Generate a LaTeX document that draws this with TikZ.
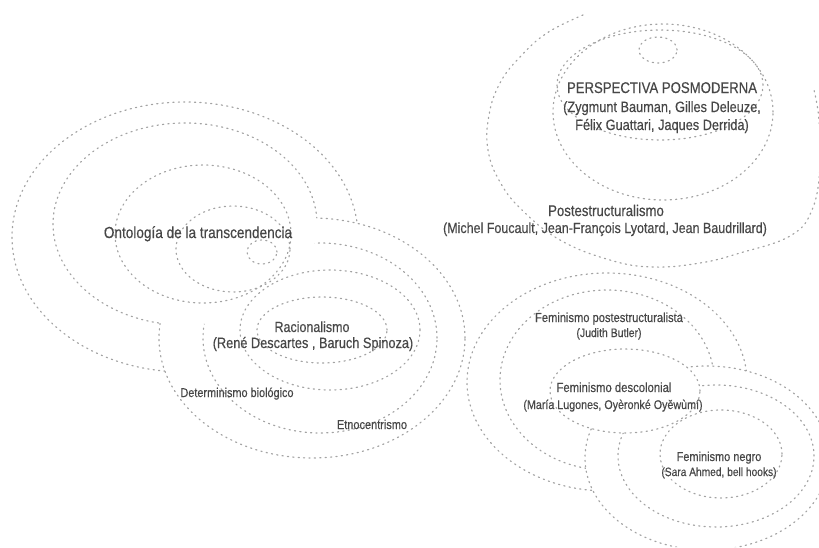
\documentclass[tikz,border=0pt]{standalone}
\usepackage{fontspec}
\setmainfont[FakeStretch=0.85,FakeBold=0.4]{Liberation Sans}
\begin{document}
\begin{tikzpicture}[x=1pt,y=-1pt,
  ring/.style={draw=black!36, line width=1.2pt, dash pattern=on 1.2pt off 4.2pt, line cap=round},
  lab/.style={text=black!72, inner sep=0pt, anchor=base},
]
\useasboundingbox (0,0) rectangle (819,547);
\clip (0,0) rectangle (819,547);
% ---------- group A : Ontologia ----------
\begin{scope}[even odd rule]
  \clip (819,0) rectangle (0,547) (312,338) ellipse [x radius=153pt, y radius=120pt];
  \draw[ring] (185,237) ellipse [x radius=173pt, y radius=135pt];
  \draw[ring] (185,224) ellipse [x radius=132pt, y radius=101pt];
\end{scope}
\draw[ring] (203,234) ellipse [x radius=88pt, y radius=69pt];
\draw[ring] (233,249) ellipse [x radius=57pt, y radius=43pt];
\draw[ring] (262,252) ellipse [x radius=15pt, y radius=12pt];
% ---------- group B : Racionalismo ----------
\begin{scope}[even odd rule]
  \clip (819,0) rectangle (0,547) (185,224) ellipse [x radius=132pt, y radius=101pt];
  \draw[ring] (312,338) ellipse [x radius=153pt, y radius=120pt];
  \draw[ring] (320,338) ellipse [x radius=117pt, y radius=95pt];
\end{scope}
\begin{scope}[even odd rule]
  \clip (819,0) rectangle (0,547) (203,234) ellipse [x radius=88pt, y radius=69pt];
  \draw[ring] (330,330) ellipse [x radius=90pt, y radius=60pt];
\end{scope}
\draw[ring] (322,330) ellipse [x radius=65pt, y radius=33pt];
% ---------- group C : Postestructuralismo ----------
\draw[ring] plot[smooth, tension=0.7] coordinates {(583,15) (547,33) (520,57) (500,83) (489,115) (488,150) (500,182) (522,210) (560,240) (610,260) (653,267) (700,263) (740,253) (790,236) (812,210) (820,167) (819,120) (814,90)};
\draw[ring] (663,112) ellipse [x radius=110pt, y radius=88pt];
\draw[ring] (660,85) ellipse [x radius=103pt, y radius=55pt];
\draw[ring] (658,50) ellipse [x radius=19pt, y radius=13pt];
% ---------- group D : Feminismo ----------
\begin{scope}[even odd rule]
  \clip (819,0) rectangle (0,547) (707,458) ellipse [x radius=122pt, y radius=92pt];
  \draw[ring] (607,382) ellipse [x radius=140pt, y radius=109pt];
  \draw[ring] (607,380) ellipse [x radius=107pt, y radius=90pt];
\end{scope}
\draw[ring] (625,391) ellipse [x radius=75pt, y radius=42pt];
% ---------- group E : Feminismo negro ----------
\begin{scope}[even odd rule]
  \clip (819,0) rectangle (0,547) (625,391) ellipse [x radius=75pt, y radius=42pt];
  \draw[ring] (707,458) ellipse [x radius=122pt, y radius=92pt];
  \draw[ring] (716,456) ellipse [x radius=98pt, y radius=71pt];
\end{scope}
\draw[ring] (721,454) ellipse [x radius=61pt, y radius=44pt];
% ---------- labels ----------
\node[lab, font=\fontsize{15.5}{18}\selectfont] (perspT) at (662,93) {PERSPECTIVA POSMODERNA};
\node[lab, font=\fontsize{15}{18}\selectfont] (perspA) at (662,112) {(Zygmunt Bauman, Gilles Deleuze,};
\node[lab, font=\fontsize{15}{18}\selectfont] (perspB) at (662,130) {Félix Guattari, Jaques Derrida)};
\node[lab, font=\fontsize{15.5}{18}\selectfont] (postT) at (606,216) {Postestructuralismo};
\node[lab, font=\fontsize{14.7}{18}\selectfont] (postA) at (605,233) {(Michel Foucault, Jean-François Lyotard, Jean Baudrillard)};
\node[lab, font=\fontsize{16}{18}\selectfont] (onto) at (198,238) {Ontología de la transcendencia};
\node[lab, font=\fontsize{14.7}{18}\selectfont] (racT) at (312,332) {Racionalismo};
\node[lab, font=\fontsize{15}{18}\selectfont] (racA) at (313,348) {(René Descartes , Baruch Spinoza)};
\node[lab, font=\fontsize{12.8}{15}\selectfont] (deter) at (237,397) {Determinismo biológico};
\node[lab, font=\fontsize{12.9}{15}\selectfont] (etno) at (372,429) {Etnocentrismo};
\node[lab, font=\fontsize{13.1}{15}\selectfont] (femPT) at (609,322) {Feminismo postestructuralista};
\node[lab, font=\fontsize{12.3}{15}\selectfont] (femPA) at (609,337) {(Judith Butler)};
\node[lab, font=\fontsize{13.3}{15}\selectfont] (femDT) at (614,392) {Feminismo descolonial};
\node[lab, font=\fontsize{12.6}{15}\selectfont] (femDA) at (613,409) {(María Lugones, Oyèronké Oyěwùmí)};
\node[lab, font=\fontsize{12.9}{15}\selectfont] (femNT) at (719,461) {Feminismo negro};
\node[lab, font=\fontsize{12}{15}\selectfont] (femNA) at (719,476) {(Sara Ahmed, bell hooks)};
\end{tikzpicture}
\end{document}
